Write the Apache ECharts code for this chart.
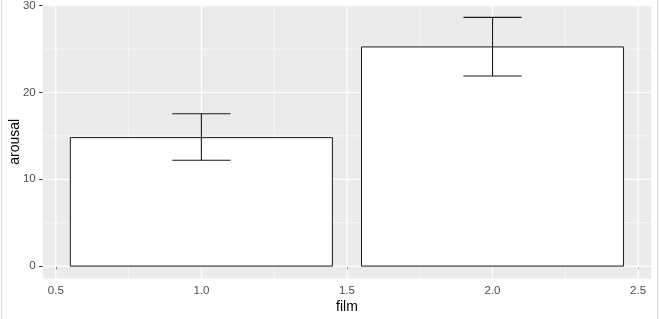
<!DOCTYPE html>
<html>
<head>
<meta charset="utf-8">
<script src="https://cdn.jsdelivr.net/npm/echarts@6/dist/echarts.min.js"></script>
<style>
html,body{margin:0;padding:0;background:#fff;}
#chart{width:660px;height:319px;}
</style>
</head>
<body>
<div id="chart"></div>
<script>
// Data
const films = [1, 2];
const arousalMean = [14.8, 25.25];
const errLow = [12.2, 21.9];
const errHigh = [17.55, 28.65];
// Tick labels / gridlines
const xTicks = [0.5, 1.0, 1.5, 2.0, 2.5];
const xMinor = [0.75, 1.25, 1.75, 2.25];
const yTicks = [0, 10, 20, 30];
const yMinor = [5, 15, 25];

const barHalf = 0.45;
const capHalf = 0.1;
const xMin = 0.455, xMax = 2.545;
const yMin = -1.43, yMax = 30.08;

const chart = echarts.init(document.getElementById('chart'));

function vGrid(width) {
  return function (params, api) {
    const v = api.value(0);
    const p1 = api.coord([v, yMin]);
    const p2 = api.coord([v, yMax]);
    return {type: 'line', shape: {x1: p1[0], y1: p1[1], x2: p2[0], y2: p2[1]},
            style: {stroke: '#FFFFFF', lineWidth: width}, silent: true};
  };
}
function hGrid(width) {
  return function (params, api) {
    const v = api.value(1);
    const p1 = api.coord([xMin, v]);
    const p2 = api.coord([xMax, v]);
    return {type: 'line', shape: {x1: p1[0], y1: p1[1], x2: p2[0], y2: p2[1]},
            style: {stroke: '#FFFFFF', lineWidth: width}, silent: true};
  };
}

const option = {
  animation: false,
  backgroundColor: '#FFFFFF',
  textStyle: {fontFamily: 'Liberation Sans, Arial, sans-serif'},
  grid: {left: 42.7, right: 8.8, top: 5, bottom: 40.5, show: true,
         backgroundColor: '#EBEBEB', borderWidth: 0, containLabel: false,
         outerBoundsMode: 'none'},
  graphic: [
    {type: 'line', shape: {x1: 1.5, y1: 0, x2: 1.5, y2: 319}, style: {stroke: '#D9D9D9', lineWidth: 1}},
    {type: 'line', shape: {x1: 657.5, y1: 0, x2: 657.5, y2: 319}, style: {stroke: '#D9D9D9', lineWidth: 1}}
  ],
  xAxis: {
    type: 'value', min: xMin, max: xMax,
    name: 'film', nameLocation: 'middle', nameGap: 22, nameMoveOverlap: false,
    nameTextStyle: {color: '#000000', fontSize: 14},
    axisLine: {show: false},
    axisTick: {show: true, customValues: xTicks, length: 3.5, lineStyle: {color: '#333333', width: 1}},
    axisLabel: {customValues: xTicks, color: '#4D4D4D', fontSize: 11.5, margin: 6,
                formatter: v => v.toFixed(1)},
    splitLine: {show: false}
  },
  yAxis: {
    type: 'value', min: yMin, max: yMax,
    name: 'arousal', nameLocation: 'middle', nameGap: 21, nameMoveOverlap: false,
    nameTextStyle: {color: '#000000', fontSize: 14},
    axisLine: {show: false},
    axisTick: {show: true, customValues: yTicks, length: 3.5, lineStyle: {color: '#333333', width: 1}},
    axisLabel: {customValues: yTicks, color: '#4D4D4D', fontSize: 11.5, margin: 7},
    splitLine: {show: false}
  },
  series: [
    {type: 'custom', renderItem: vGrid(0.6), data: xMinor.map(v => [v, 0]), silent: true, z: 1},
    {type: 'custom', renderItem: hGrid(0.6), data: yMinor.map(v => [1, v]), silent: true, z: 1},
    {type: 'custom', renderItem: vGrid(1.2), data: xTicks.map(v => [v, 0]), silent: true, z: 1},
    {type: 'custom', renderItem: hGrid(1.2), data: yTicks.map(v => [1, v]), silent: true, z: 1},
    {type: 'custom', z: 2,
     renderItem: function (params, api) {
       const x = api.value(0), y = api.value(1);
       const a = api.coord([x - barHalf, y]);
       const b = api.coord([x + barHalf, 0]);
       return {type: 'rect', shape: {x: a[0], y: a[1], width: b[0] - a[0], height: b[1] - a[1]},
               style: {fill: '#FFFFFF', stroke: '#1A1A1A', lineWidth: 1}};
     },
     data: films.map((f, i) => [f, arousalMean[i]])},
    {type: 'custom', z: 3,
     renderItem: function (params, api) {
       const x = api.value(0), lo = api.value(1), hi = api.value(2);
       const top = api.coord([x, hi]), bot = api.coord([x, lo]);
       const tl = api.coord([x - capHalf, hi]), tr = api.coord([x + capHalf, hi]);
       const bl = api.coord([x - capHalf, lo]), br = api.coord([x + capHalf, lo]);
       const st = {stroke: '#1A1A1A', lineWidth: 1.1};
       return {type: 'group', children: [
         {type: 'line', shape: {x1: top[0], y1: top[1], x2: bot[0], y2: bot[1]}, style: st},
         {type: 'line', shape: {x1: tl[0], y1: tl[1], x2: tr[0], y2: tr[1]}, style: st},
         {type: 'line', shape: {x1: bl[0], y1: bl[1], x2: br[0], y2: br[1]}, style: st}
       ]};
     },
     encode: {x: 0, y: [1, 2]},
     data: films.map((f, i) => [f, errLow[i], errHigh[i]])}
  ]
};
chart.setOption(option);
</script>
</body>
</html>
